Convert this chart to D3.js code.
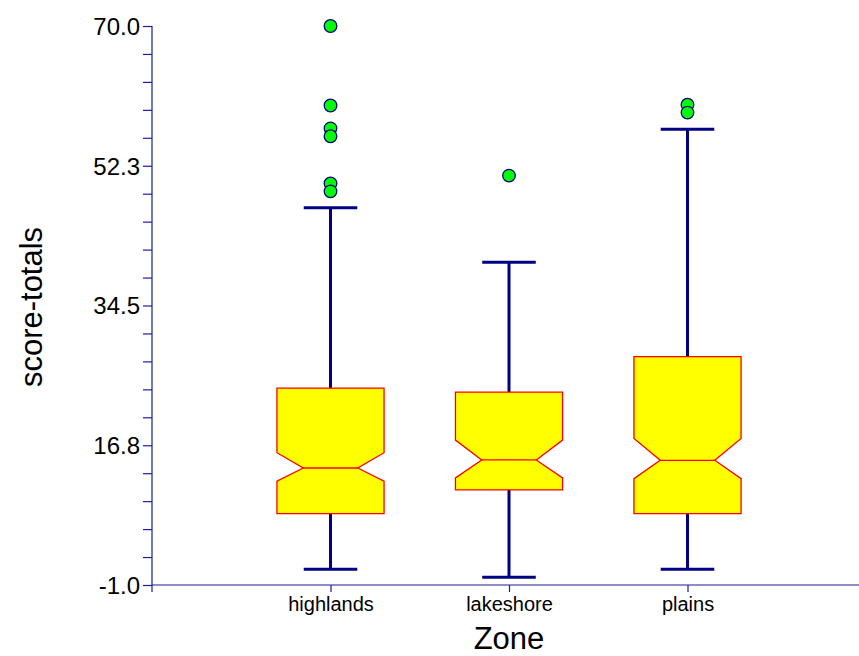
<!DOCTYPE html>
<html>
<head>
<meta charset="utf-8">
<script src="https://cdn.jsdelivr.net/npm/d3@7"></script>
<style>
body{margin:0;background:#fff;}
text{font-family:"Liberation Sans",Arial,sans-serif;fill:#000;}
</style>
</head>
<body>
<div class="container"></div>
<script>
var categories = ["highlands","lakeshore","plains"];
var q1 = [8.06, 11.07, 8.06];
var median = [13.86, 14.88, 14.84];
var q3 = [24.0, 23.5, 28.0];
var notchLo = [12.2, 12.6, 12.5];
var notchHi = [15.8, 17.4, 17.6];
var whiskerLo = [1.0, 0.0, 1.0];
var whiskerHi = [46.9, 40.0, 56.9];
var outliers = [
	[70.0, 59.9, 57.0, 56.0, 50.0, 49.0],
	[51.0],
	[60.0, 59.0]
];
var yTickLabels = ["-1.0","16.8","34.5","52.3","70.0"];

var W = 859, H = 656;
var axisColor = "#1c1c9c", navy = "#000080";

var svg = d3.select('.container').append('svg')
	.attr("width", W)
	.attr("height", H);

var x = d3.scaleLinear().domain([0,4]).range([152,866]);
var y = d3.scaleLinear().domain([-1,70]).range([585,26]);
var step = x(1)-x(0);

// y axis: 4 minor ticks between labelled ones
var yAxis = d3.axisLeft(y)
	.tickValues(d3.range(21).map(function(i){return -1 + i*71/20;}))
	.tickSize(9)
	.tickFormat(function(d,i){return i%5==0 ? yTickLabels[i/5] : "";});
var gy = svg.append('g').attr("transform","translate(152,0)").call(yAxis);
gy.select('.domain').remove();
gy.selectAll('line').attr("stroke",axisColor).attr("stroke-width",1.2);
gy.selectAll('text').style("font-size","24px").attr("x",-12).attr("dy","0.35em");
svg.append('line').attr("x1",152).attr("x2",152).attr("y1",y(70)).attr("y2",592)
	.attr("stroke",axisColor).attr("stroke-width",1.2);

// x axis
var gx = svg.append('g').attr("transform","translate(0,585)")
	.call(d3.axisBottom(x).tickValues([1,2,3]).tickSize(7)
		.tickFormat(function(d){return categories[d-1];}));
gx.select('.domain').remove();
gx.selectAll('line').attr("stroke",axisColor).attr("stroke-width",1.2);
gx.selectAll('text').style("font-size","20px").attr("y",12).attr("dy","0.71em");
svg.append('line').attr("x1",152).attr("x2",W).attr("y1",585).attr("y2",585)
	.attr("stroke",axisColor).attr("stroke-width",1.2);

// titles
svg.append('text').attr("x",509).attr("y",649).attr("text-anchor","middle")
	.style("font-size","31px").text("Zone");
svg.append('text').attr("transform","translate(42,307) rotate(-90)")
	.attr("text-anchor","middle").style("font-size","31px").text("score-totals");

var boxes = categories.map(function(c,i){
	return {i:i, cx:x(i+1), q1:q1[i], med:median[i], q3:q3[i], nlo:notchLo[i], nhi:notchHi[i],
		wlo:whiskerLo[i], whi:whiskerHi[i], out:outliers[i]};
});

var hw = step*0.3, cw = step*0.15, inset = hw*0.49;
var g = svg.selectAll('g.box').data(boxes).enter().append('g').attr("class","box");

// whiskers
g.append('line').attr("x1",function(d){return d.cx;}).attr("x2",function(d){return d.cx;})
	.attr("y1",function(d){return y(d.whi);}).attr("y2",function(d){return y(d.wlo);})
	.attr("stroke",navy).attr("stroke-width",3);
["whi","wlo"].forEach(function(k){
	g.append('line')
		.attr("x1",function(d){return d.cx-cw;}).attr("x2",function(d){return d.cx+cw;})
		.attr("y1",function(d){return y(d[k]);}).attr("y2",function(d){return y(d[k]);})
		.attr("stroke",navy).attr("stroke-width",3);
});

// notched boxes
g.append('path')
	.attr("d",function(d){
		var l = d.cx-hw, r = d.cx+hw;
		var pts = [[l,y(d.q3)],[r,y(d.q3)],[r,y(d.nhi)],[r-inset,y(d.med)],[r,y(d.nlo)],[r,y(d.q1)],
			[l,y(d.q1)],[l,y(d.nlo)],[l+inset,y(d.med)],[l,y(d.nhi)]];
		return d3.line()(pts)+"Z";
	})
	.attr("fill","#ffff00").attr("stroke","#ff0000").attr("stroke-width",1.3);
g.append('line')
	.attr("x1",function(d){return d.cx-hw+inset;}).attr("x2",function(d){return d.cx+hw-inset;})
	.attr("y1",function(d){return y(d.med);}).attr("y2",function(d){return y(d.med);})
	.attr("stroke","#ff0000").attr("stroke-width",1.3);

// outliers
g.selectAll('circle').data(function(d){return d.out.map(function(v){return {cx:d.cx,v:v};});})
	.enter().append('circle')
	.attr("cx",function(d){return d.cx;}).attr("cy",function(d){return y(d.v);})
	.attr("r",6.3).attr("fill","#00ff00").attr("stroke",navy).attr("stroke-width",1.3);
</script>
</body>
</html>
